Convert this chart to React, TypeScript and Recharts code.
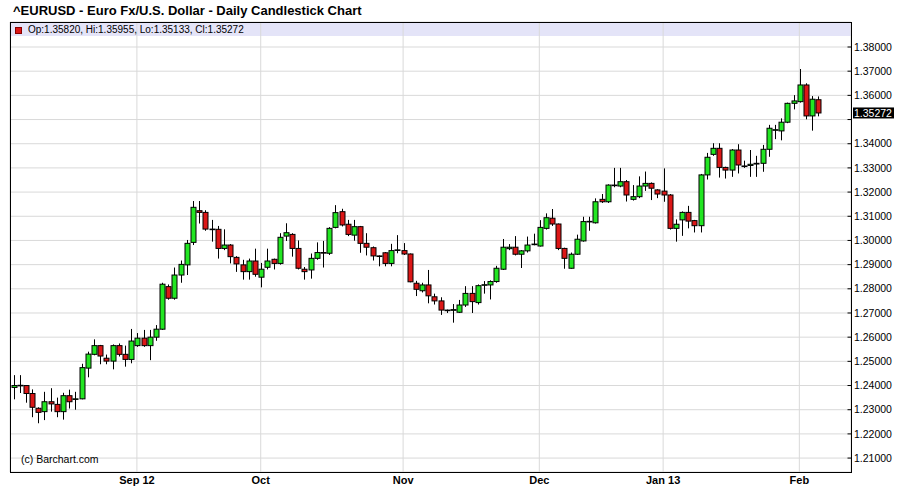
import React from "react";
import {
  ComposedChart,
  Bar,
  XAxis,
  YAxis,
  CartesianGrid,
  ReferenceLine,
} from "recharts";

// daily EUR/USD candles, Aug 6 2012 .. Feb 6 2013
const opens = [
  1.2392, 1.24, 1.24, 1.2367, 1.2306, 1.2292, 1.2333, 1.2322, 1.2292, 1.2358,
  1.2344, 1.2345, 1.2472, 1.2529, 1.2565, 1.2513, 1.2501, 1.2565, 1.2529, 1.2508,
  1.2565, 1.2596, 1.2565, 1.26, 1.2633, 1.2809, 1.2761, 1.2857, 1.2899, 1.2992,
  1.3123, 1.3116, 1.3047, 1.3046, 1.2967, 1.2981, 1.293, 1.2899, 1.2871, 1.2915,
  1.2848, 1.2889, 1.2922, 1.2905, 1.3018, 1.3025, 1.2967, 1.2881, 1.2878, 1.2926,
  1.295, 1.2947, 1.3054, 1.3119, 1.3067, 1.3022, 1.3057, 1.2988, 1.297, 1.2936,
  1.2949, 1.2905, 1.296, 1.2958, 1.2944, 1.2823, 1.2792, 1.2816, 1.2767, 1.275,
  1.2712, 1.2711, 1.2703, 1.2733, 1.2781, 1.2743, 1.2816, 1.2816, 1.283, 1.2881,
  1.2966, 1.2972, 1.2943, 1.2957, 1.2984, 1.2977, 1.305, 1.3092, 1.3068, 1.2967,
  1.2885, 1.2943, 1.2998, 1.3078, 1.3073, 1.317, 1.316, 1.3229, 1.3225, 1.3243,
  1.317, 1.3181, 1.3225, 1.3236, 1.3209, 1.3204, 1.3188, 1.305, 1.3085, 1.3116,
  1.3082, 1.3061, 1.3271, 1.3356, 1.3381, 1.3302, 1.3291, 1.3374, 1.3308, 1.331,
  1.3316, 1.3319, 1.3377, 1.3457, 1.3453, 1.3489, 1.3567, 1.3574, 1.3643, 1.3515,
  1.3582,
];
const highs = [
  1.2443, 1.2443, 1.2402, 1.2384, 1.231, 1.2374, 1.2389, 1.235, 1.237, 1.2383,
  1.2374, 1.249, 1.254, 1.2591, 1.2568, 1.2528, 1.257, 1.2574, 1.2565, 1.2634,
  1.2617, 1.263, 1.263, 1.265, 1.2825, 1.2818, 1.2888, 1.2917, 1.3002, 1.3163,
  1.3163, 1.3125, 1.3085, 1.306, 1.3046, 1.2985, 1.2935, 1.292, 1.2925, 1.2966,
  1.2907, 1.2966, 1.2925, 1.303, 1.3071, 1.303, 1.3, 1.289, 1.2946, 1.2992,
  1.2998, 1.3055, 1.3146, 1.3131, 1.3085, 1.3085, 1.306, 1.303, 1.2975, 1.2938,
  1.2952, 1.2986, 1.3022, 1.2989, 1.2946, 1.2833, 1.2825, 1.2878, 1.278, 1.2765,
  1.2714, 1.2737, 1.2754, 1.2811, 1.2811, 1.2818, 1.2832, 1.2835, 1.2895, 1.3006,
  1.2985, 1.3018, 1.296, 1.3016, 1.3028, 1.3084, 1.3112, 1.313, 1.307, 1.297,
  1.295, 1.3024, 1.3098, 1.3098, 1.3174, 1.3192, 1.3232, 1.33, 1.33, 1.325,
  1.3229, 1.3265, 1.3285, 1.324, 1.3212, 1.3298, 1.3192, 1.3087, 1.312, 1.3143,
  1.3085, 1.3275, 1.3362, 1.3402, 1.3402, 1.3305, 1.3378, 1.3398, 1.333, 1.3374,
  1.335, 1.3395, 1.3478, 1.3478, 1.3505, 1.357, 1.3601, 1.3709, 1.365, 1.3597,
  1.35955,
];
const lows = [
  1.2343, 1.2369, 1.2329, 1.2269, 1.2244, 1.2257, 1.2292, 1.2269, 1.2259, 1.2305,
  1.23, 1.2343, 1.2434, 1.2525, 1.2488, 1.2488, 1.2467, 1.252, 1.2478, 1.2492,
  1.256, 1.256, 1.2505, 1.2585, 1.263, 1.2755, 1.2755, 1.2825, 1.2857, 1.2981,
  1.307, 1.304, 1.2995, 1.2925, 1.296, 1.2905, 1.287, 1.2838, 1.2838, 1.285,
  1.2806, 1.288, 1.288, 1.29, 1.2998, 1.2933, 1.288, 1.2838, 1.2842, 1.292,
  1.2888, 1.294, 1.305, 1.3058, 1.3018, 1.2999, 1.2949, 1.2938, 1.2917, 1.2893,
  1.2893, 1.2893, 1.2947, 1.294, 1.2827, 1.277, 1.2785, 1.274, 1.2735, 1.2692,
  1.27, 1.266, 1.27, 1.2725, 1.27, 1.2735, 1.278, 1.2756, 1.2825, 1.2878,
  1.296, 1.2938, 1.2886, 1.295, 1.298, 1.2975, 1.3045, 1.306, 1.296, 1.2883,
  1.2883, 1.294, 1.2995, 1.304, 1.307, 1.3155, 1.3155, 1.322, 1.322, 1.3161,
  1.3165, 1.3175, 1.3205, 1.3167, 1.3175, 1.316, 1.3045, 1.2995, 1.3019, 1.305,
  1.3033, 1.3033, 1.3252, 1.335, 1.326, 1.3256, 1.3263, 1.3277, 1.33, 1.3263,
  1.3263, 1.3284, 1.3346, 1.3419, 1.3414, 1.3485, 1.3542, 1.357, 1.3501, 1.3454,
  1.35133,
];
const closes = [
  1.24, 1.2401, 1.2367, 1.231, 1.2289, 1.2333, 1.2324, 1.2292, 1.2358, 1.2333,
  1.2345, 1.2474, 1.253, 1.2565, 1.2522, 1.2501, 1.2565, 1.2529, 1.2508, 1.2584,
  1.2596, 1.2565, 1.26, 1.2633, 1.2819, 1.2761, 1.2857, 1.2901, 1.2988, 1.3137,
  1.3116, 1.3047, 1.3046, 1.2967, 1.2981, 1.2933, 1.2903, 1.2871, 1.2915, 1.286,
  1.2881, 1.2915, 1.2905, 1.3013, 1.3032, 1.2967, 1.2885, 1.2871, 1.2926, 1.295,
  1.2949, 1.305, 1.3115, 1.3064, 1.3025, 1.3057, 1.2988, 1.2972, 1.2936, 1.2935,
  1.2905, 1.2958, 1.2961, 1.2944, 1.2829, 1.2798, 1.2816, 1.2771, 1.275, 1.2712,
  1.2711, 1.2714, 1.2733, 1.2781, 1.2747, 1.2813, 1.2817, 1.283, 1.2885, 1.2972,
  1.2972, 1.2943, 1.2957, 1.2981, 1.2985, 1.3054, 1.3094, 1.3068, 1.2967, 1.2926,
  1.2943, 1.3005, 1.3078, 1.3079, 1.316, 1.316, 1.3229, 1.3228, 1.3243, 1.3188,
  1.3181, 1.3225, 1.3236, 1.3216, 1.3192, 1.3188, 1.305, 1.3067, 1.3116, 1.308,
  1.3061, 1.3271, 1.3344, 1.3381, 1.3302, 1.3291, 1.3374, 1.3312, 1.3307, 1.3315,
  1.3319, 1.3377, 1.3464, 1.3458, 1.3489, 1.3567, 1.3577, 1.3643, 1.3515, 1.3584,
  1.35272,
];

const firstDay = "2012-08-06";
const holidays = ["2012-12-25", "2013-01-01"];
const months = ["2012-09", "2012-10", "2012-11", "2012-12", "2013-01", "2013-02"];
const monthLabels = ["Sep 12", "Oct", "Nov", "Dec", "Jan 13", "Feb"];
const priceTicks = [
  1.21, 1.22, 1.23, 1.24, 1.25, 1.26, 1.27, 1.28, 1.29, 1.3, 1.31, 1.32, 1.33,
  1.34, 1.35, 1.36, 1.37, 1.38,
];

const UP = "#22e622";
const DOWN = "#dc1717";
const GRID = "#d9d9d9";
const FONT = '"Liberation Sans", Arial, sans-serif';

// weekdays from firstDay, skipping the two holidays
function tradingDays(start: string, n: number) {
  const out: string[] = [];
  const d = new Date(start + "T00:00:00Z");
  while (out.length < n) {
    const wd = d.getUTCDay();
    const s = d.toISOString().slice(0, 10);
    if (wd !== 0 && wd !== 6 && !holidays.includes(s)) out.push(s);
    d.setUTCDate(d.getUTCDate() + 1);
  }
  return out;
}

const dates = tradingDays(firstDay, closes.length);
const data = dates.map((date, i) => ({
  date,
  open: opens[i],
  high: highs[i],
  low: lows[i],
  close: closes[i],
}));
const monthTicks = months.map((m) => dates.find((d) => d.startsWith(m)) as string);
const last = data[data.length - 1];

const Candle = (props: any) => {
  const { x, y, width, height, payload } = props;
  if (x == null || y == null) return null;
  const { open, close, high, low } = payload;
  const top = Math.min(y, y + height);
  const h = Math.abs(height);
  const k = high - low > 0 ? h / (high - low) : 0;
  const yO = top + (high - open) * k;
  const yC = top + (high - close) * k;
  const cx = Math.round(x + width / 2) + 0.5;
  const bTop = Math.min(yO, yC);
  const bH = Math.max(Math.abs(yO - yC), 0.6);
  return (
    <g>
      <line x1={cx} x2={cx} y1={top} y2={top + h} stroke="#000" strokeWidth={1} />
      <rect
        x={cx - 2.5}
        y={bTop}
        width={5}
        height={bH}
        fill={close >= open ? UP : DOWN}
        stroke="#000"
        strokeWidth={1}
      />
    </g>
  );
};

const PriceTick = (props: any) => {
  const { x, y, payload } = props;
  const v = payload.value as number;
  return (
    <g>
      <line x1={x - 6.5} x2={x - 3} y1={y} y2={y} stroke="#000" />
      {Math.abs(v - 1.35) > 0.001 && (
        <text x={x} y={y} dy="0.35em" fontSize={10.5} fontFamily={FONT} fill="#000">
          {v.toFixed(5)}
        </text>
      )}
    </g>
  );
};

const LastPrice = (props: any) => {
  const vb = props.viewBox || {};
  const x0 = vb.x + vb.width + 2;
  const y0 = vb.y;
  return (
    <g>
      <rect x={x0} y={y0 - 5.5} width={41} height={11} fill="#000" />
      <text x={x0 + 1} y={y0} dy="0.35em" fontSize={10.5} fontFamily={FONT} fill="#fff">
        {last.close.toFixed(5)}
      </text>
    </g>
  );
};

export default function App() {
  return (
    <div
      style={{
        position: "absolute",
        left: 0,
        top: 0,
        width: 898,
        height: 493,
        background: "#fff",
        fontFamily: FONT,
        overflow: "hidden",
      }}
    >
      <div
        style={{
          position: "absolute",
          left: 13,
          top: 3,
          fontSize: 13,
          fontWeight: "bold",
          whiteSpace: "nowrap",
        }}
      >
        ^EURUSD - Euro Fx/U.S. Dollar - Daily Candlestick Chart
      </div>
      <div
        style={{
          position: "absolute",
          left: 10,
          top: 22,
          width: 841,
          height: 14,
          background: "#e4e4f8",
        }}
      />
      <div style={{ position: "absolute", left: 0, top: 0 }}>
        <ComposedChart
          width={898}
          height={493}
          data={data}
          margin={{ top: 22, right: 0, bottom: 0, left: 10 }}
        >
          <CartesianGrid stroke={GRID} strokeWidth={1} />
          <XAxis
            dataKey="date"
            ticks={monthTicks}
            interval={0}
            tickFormatter={(d: string) => monthLabels[monthTicks.indexOf(d)] ?? ""}
            axisLine={false}
            tickLine={false}
            tickSize={0}
            tickMargin={4}
            height={21}
            padding={{ left: 0, right: 30 }}
            tick={{ fontSize: 11, fontWeight: "bold", fill: "#000", fontFamily: '"Liberation Sans Narrow", "Liberation Sans", Arial' }}
          />
          <YAxis
            orientation="right"
            type="number"
            domain={[1.20424, 1.39034]}
            allowDataOverflow
            ticks={priceTicks}
            interval={0}
            width={47}
            axisLine={false}
            tickLine={false}
            tickSize={0}
            tickMargin={3}
            tick={<PriceTick />}
          />
          <Bar
            dataKey={(d: any) => [d.low, d.high]}
            barSize={5}
            shape={<Candle />}
            isAnimationActive={false}
          />
          <ReferenceLine y={last.close} stroke="none" label={<LastPrice />} />
        </ComposedChart>
      </div>
      <div
        style={{
          position: "absolute",
          left: 15,
          top: 27,
          width: 5,
          height: 5,
          background: DOWN,
          border: "1px solid #800",
        }}
      />
      <div
        style={{
          position: "absolute",
          left: 28,
          top: 24,
          fontSize: 10,
          whiteSpace: "nowrap",
        }}
      >
        Op:1.35820, Hi:1.35955, Lo:1.35133, Cl:1.35272
      </div>
      <div
        style={{
          position: "absolute",
          left: 21,
          top: 453,
          fontSize: 10.5,
          whiteSpace: "nowrap",
        }}
      >
        (c) Barchart.com
      </div>
      <div
        style={{
          position: "absolute",
          left: 10,
          top: 22,
          width: 842,
          height: 451,
          border: "1px solid #000",
          boxSizing: "border-box",
          pointerEvents: "none",
        }}
      />
    </div>
  );
}
